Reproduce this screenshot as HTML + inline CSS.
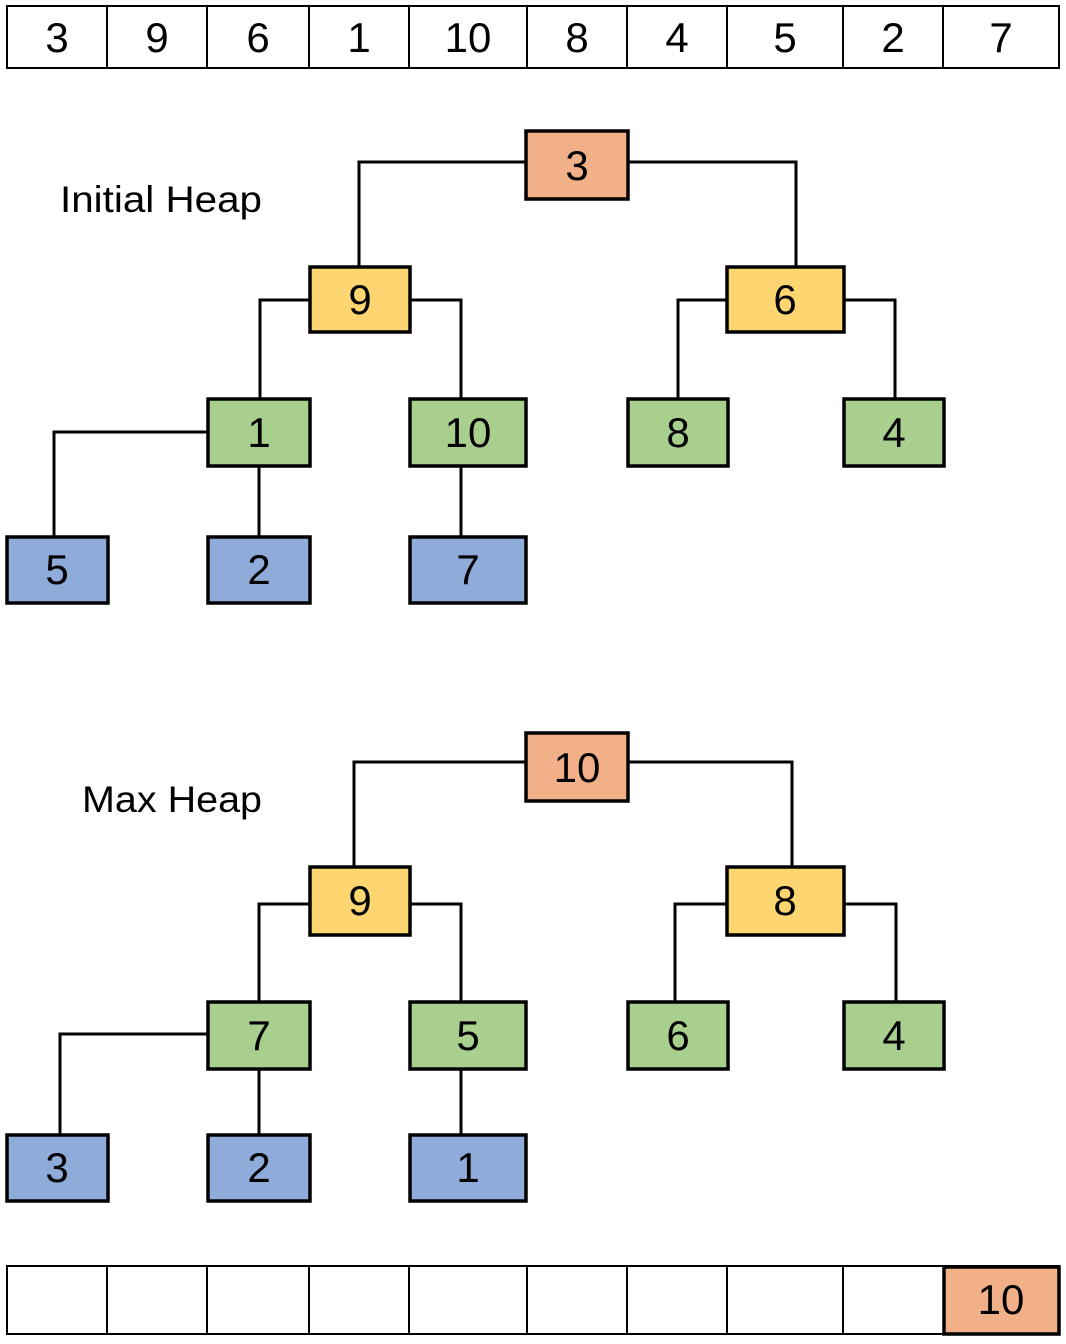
<!DOCTYPE html>
<html><head><meta charset="utf-8"><style>
html,body{margin:0;padding:0;background:#fff;}
svg{display:block;}
text{font-family:"Liberation Sans",sans-serif;}
</style></head><body>
<svg width="1066" height="1344" viewBox="0 0 1066 1344" xmlns="http://www.w3.org/2000/svg">
<g fill="none" stroke="#000" stroke-width="2">
<rect x="7" y="6" width="1052" height="62"/>
<line x1="107" y1="6" x2="107" y2="68"/><line x1="207" y1="6" x2="207" y2="68"/>
<line x1="309" y1="6" x2="309" y2="68"/><line x1="409" y1="6" x2="409" y2="68"/>
<line x1="527" y1="6" x2="527" y2="68"/><line x1="627" y1="6" x2="627" y2="68"/>
<line x1="727" y1="6" x2="727" y2="68"/><line x1="843" y1="6" x2="843" y2="68"/>
<line x1="943" y1="6" x2="943" y2="68"/>
</g>
<g font-size="42" text-anchor="middle" fill="#000">
<text x="57" y="52">3</text><text x="157" y="52">9</text><text x="258" y="52">6</text>
<text x="359" y="52">1</text><text x="468" y="52">10</text><text x="577" y="52">8</text>
<text x="677" y="52">4</text><text x="785" y="52">5</text><text x="893" y="52">2</text>
<text x="1001" y="52">7</text>
</g>

<text x="60" y="212" font-size="37" textLength="202" lengthAdjust="spacingAndGlyphs">Initial Heap</text>
<text x="82" y="812" font-size="37" textLength="180" lengthAdjust="spacingAndGlyphs">Max Heap</text>

<g fill="none" stroke="#000" stroke-width="3">
<polyline points="526,162 359,162 359,266"/>
<polyline points="628,162 796,162 796,266"/>
<polyline points="310,300 260,300 260,398"/>
<polyline points="410,300 461,300 461,398"/>
<polyline points="727,300 678,300 678,398"/>
<polyline points="844,300 895,300 895,398"/>
<polyline points="208,432 54,432 54,536"/>
<line x1="259" y1="466" x2="259" y2="536"/>
<line x1="461" y1="466" x2="461" y2="536"/>
<polyline points="526,762 354,762 354,867"/>
<polyline points="628,762 792,762 792,867"/>
<polyline points="310,904 259,904 259,1002"/>
<polyline points="410,904 461,904 461,1002"/>
<polyline points="727,904 675,904 675,1002"/>
<polyline points="844,904 896,904 896,1002"/>
<polyline points="208,1034 60,1034 60,1135"/>
<line x1="259" y1="1069" x2="259" y2="1135"/>
<line x1="461" y1="1069" x2="461" y2="1135"/>
</g>

<g stroke="#000" stroke-width="3.5">
<rect x="526" y="131" width="102" height="68" fill="#F1B088"/>
<rect x="310" y="267" width="100" height="65" fill="#FDD671"/>
<rect x="727" y="267" width="117" height="65" fill="#FDD671"/>
<rect x="208" y="399" width="102" height="67" fill="#A9CF8F"/>
<rect x="410" y="399" width="116" height="67" fill="#A9CF8F"/>
<rect x="628" y="399" width="100" height="67" fill="#A9CF8F"/>
<rect x="844" y="399" width="100" height="67" fill="#A9CF8F"/>
<rect x="7" y="537" width="101" height="66" fill="#8EABD9"/>
<rect x="208" y="537" width="102" height="66" fill="#8EABD9"/>
<rect x="410" y="537" width="116" height="66" fill="#8EABD9"/>

<rect x="526" y="733" width="102" height="68" fill="#F1B088"/>
<rect x="310" y="867" width="100" height="68" fill="#FDD671"/>
<rect x="727" y="867" width="117" height="68" fill="#FDD671"/>
<rect x="208" y="1002" width="102" height="67" fill="#A9CF8F"/>
<rect x="410" y="1002" width="116" height="67" fill="#A9CF8F"/>
<rect x="628" y="1002" width="100" height="67" fill="#A9CF8F"/>
<rect x="844" y="1002" width="100" height="67" fill="#A9CF8F"/>
<rect x="7" y="1135" width="101" height="66" fill="#8EABD9"/>
<rect x="208" y="1135" width="102" height="66" fill="#8EABD9"/>
<rect x="410" y="1135" width="116" height="66" fill="#8EABD9"/>
</g>

<g font-size="42" text-anchor="middle" fill="#000">
<text x="577" y="180">3</text>
<text x="360" y="314">9</text><text x="785" y="314">6</text>
<text x="259" y="447">1</text><text x="468" y="447">10</text><text x="678" y="447">8</text><text x="894" y="447">4</text>
<text x="57" y="584">5</text><text x="259" y="584">2</text><text x="468" y="584">7</text>
<text x="577" y="782">10</text>
<text x="360" y="915">9</text><text x="785" y="915">8</text>
<text x="259" y="1050">7</text><text x="468" y="1050">5</text><text x="678" y="1050">6</text><text x="894" y="1050">4</text>
<text x="57" y="1182">3</text><text x="259" y="1182">2</text><text x="468" y="1182">1</text>
</g>

<g fill="none" stroke="#000" stroke-width="2">
<rect x="7" y="1266" width="1052" height="68"/>
<line x1="107" y1="1266" x2="107" y2="1334"/><line x1="207" y1="1266" x2="207" y2="1334"/>
<line x1="309" y1="1266" x2="309" y2="1334"/><line x1="409" y1="1266" x2="409" y2="1334"/>
<line x1="527" y1="1266" x2="527" y2="1334"/><line x1="627" y1="1266" x2="627" y2="1334"/>
<line x1="727" y1="1266" x2="727" y2="1334"/><line x1="843" y1="1266" x2="843" y2="1334"/>
</g>
<rect x="944" y="1267" width="115" height="67" fill="#F1B088" stroke="#000" stroke-width="3.5"/>
<text x="1001" y="1314" font-size="42" text-anchor="middle">10</text>
</svg>
</body></html>
